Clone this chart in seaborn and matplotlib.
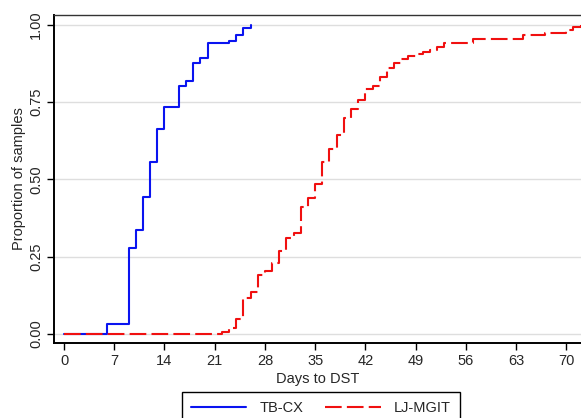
import matplotlib
matplotlib.use("Agg")
import matplotlib.pyplot as plt
import seaborn as sns
import pandas as pd

# step points (day, cumulative proportion)
tbcx_days = [0, 6, 9, 10, 11, 12, 13, 14, 16, 17, 18, 19, 20, 23, 24, 25, 26]
tbcx_prop = [0.0, 0.032, 0.277, 0.335, 0.442, 0.556, 0.663, 0.736, 0.803, 0.82,
             0.878, 0.893, 0.943, 0.949, 0.968, 0.99, 1.0]

mgit_days = [0, 22, 23, 24, 25, 26, 27, 28, 29, 30, 31, 32, 33, 34, 35, 36, 37,
             38, 39, 40, 41, 42, 43, 44, 45, 46, 47, 48, 49, 50, 51, 52, 53, 57,
             64, 67, 70, 71, 72]
mgit_prop = [0.0, 0.008, 0.02, 0.05, 0.115, 0.135, 0.19, 0.205, 0.23, 0.268,
             0.31, 0.328, 0.41, 0.44, 0.484, 0.555, 0.60, 0.645, 0.70, 0.728,
             0.757, 0.792, 0.803, 0.833, 0.86, 0.876, 0.889, 0.90, 0.906, 0.912,
             0.92, 0.93, 0.94, 0.955, 0.966, 0.973, 0.984, 0.994, 1.0]

methods = ["TB-CX", "LJ-MGIT"]
x_ticks = list(range(0, 71, 7))
y_ticks = [0.0, 0.25, 0.5, 0.75, 1.0]

df = pd.concat([
    pd.DataFrame({"day": tbcx_days, "prop": tbcx_prop, "method": methods[0]}),
    pd.DataFrame({"day": mgit_days, "prop": mgit_prop, "method": methods[1]}),
])

sns.set_theme(style="white")
plt.rcParams["font.family"] = ["Liberation Sans", "DejaVu Sans"]
fs = 10.5

fig = plt.figure(figsize=(5.81, 4.18), dpi=100)
ax = fig.add_axes([54 / 581, 75 / 418, 528 / 581, 328 / 418])

sns.lineplot(data=df, x="day", y="prop", hue="method", style="method",
             palette={"TB-CX": "#0a14f0", "LJ-MGIT": "#f01010"},
             dashes={"TB-CX": "", "LJ-MGIT": (8, 2.5)},
             drawstyle="steps-post", estimator=None, sort=False,
             linewidth=1.5, ax=ax)

ax.set_xlim(-1.4, 72.2)
ax.set_ylim(-0.029, 1.032)
ax.set_xticks(x_ticks)
ax.set_yticks(y_ticks)
ax.set_yticklabels([f"{v:.2f}" for v in y_ticks], rotation=90, va="center")
ax.tick_params(axis="both", direction="out", length=5, width=1, color="black",
               labelsize=fs, pad=3, left=True, bottom=True)
ax.yaxis.grid(True, color="#dedede", linewidth=1)
ax.set_axisbelow(True)

for side in ["left", "bottom", "top"]:
    ax.spines[side].set_color("black")
    ax.spines[side].set_linewidth(1.4)
ax.spines["top"].set_color("#333333")
ax.spines["top"].set_linewidth(1.0)
ax.spines["right"].set_visible(False)

ax.set_xlabel("Days to DST", fontsize=fs, labelpad=3)
ax.set_ylabel("Proportion of samples", fontsize=fs, labelpad=2)

handles, labels = ax.get_legend_handles_labels()
ax.get_legend().remove()
fig.legend(handles, labels, loc="upper center", bbox_to_anchor=(321 / 581, 1 - 392 / 418),
           borderaxespad=0, ncol=2, fontsize=fs, frameon=True, fancybox=False,
           edgecolor="black", framealpha=1, handlelength=3.8, handletextpad=0.9,
           columnspacing=1.5, borderpad=0.6)

fig.savefig("out.png", dpi=100)
